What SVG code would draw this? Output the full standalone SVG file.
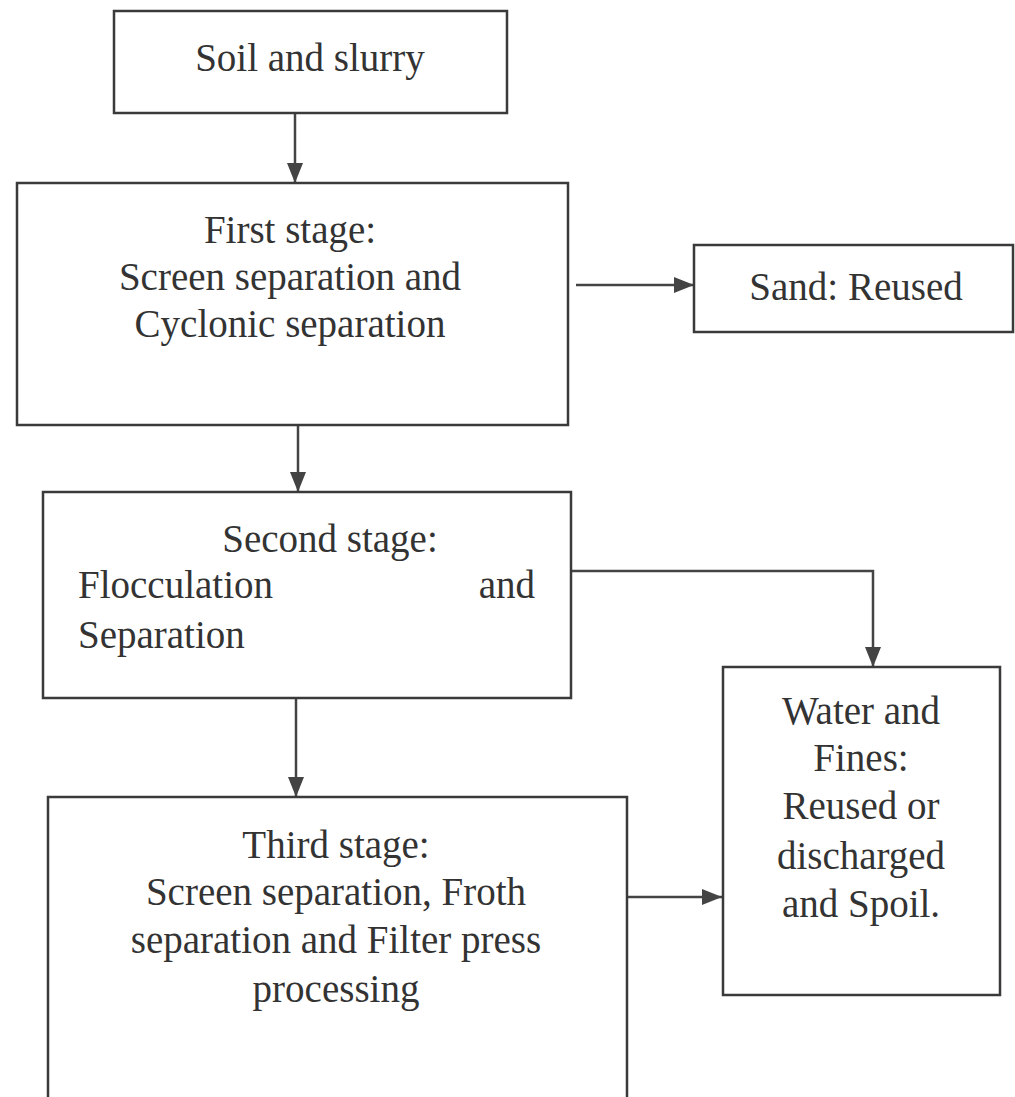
<svg xmlns="http://www.w3.org/2000/svg" width="1015" height="1097" viewBox="0 0 1015 1097">
<defs>
<style>
.box{fill:#fff;stroke:#3a3a3a;stroke-width:2.5}
.t{font-family:"Liberation Serif","Times New Roman",serif;font-size:39px;fill:#333}
.c{text-anchor:middle}
.ln{fill:none;stroke:#444;stroke-width:2.5}
</style>
<marker id="ah" viewBox="0 0 20 16" refX="20" refY="8" markerWidth="20" markerHeight="16" markerUnits="userSpaceOnUse" orient="auto">
<path d="M0,0 L20,8 L0,16 z" fill="#444"/>
</marker>
</defs>
<rect width="1015" height="1097" fill="#fff"/>
<g id="connectors">
<path class="ln" d="M295,114 V183" marker-end="url(#ah)"/>
<path class="ln" d="M576,285 H694" marker-end="url(#ah)"/>
<path class="ln" d="M298,425 V492" marker-end="url(#ah)"/>
<path class="ln" d="M571,571 H873 V667" marker-end="url(#ah)"/>
<path class="ln" d="M296,698 V797" marker-end="url(#ah)"/>
<path class="ln" d="M627,897 H722" marker-end="url(#ah)"/>
</g>
<g id="soil">
<rect class="box" x="114" y="11" width="393" height="102"/>
<text class="t c" x="310" y="71">Soil and slurry</text>
</g>
<g id="first">
<rect class="box" x="17" y="183" width="551" height="242"/>
<text class="t c" x="290" y="243">First stage:</text>
<text class="t c" x="290" y="290">Screen separation and</text>
<text class="t c" x="290" y="337">Cyclonic separation</text>
</g>
<g id="sand">
<rect class="box" x="694" y="245" width="319" height="87"/>
<text class="t c" x="856" y="300">Sand: Reused</text>
</g>
<g id="second">
<rect class="box" x="43" y="492" width="528" height="206"/>
<text class="t c" x="330" y="552">Second stage:</text>
<text class="t" x="78" y="598">Flocculation</text>
<text class="t" x="535" y="598" text-anchor="end">and</text>
<text class="t" x="78" y="648">Separation</text>
</g>
<g id="water">
<rect class="box" x="723" y="667" width="277" height="328"/>
<text class="t c" x="861" y="724">Water and</text>
<text class="t c" x="861" y="771">Fines:</text>
<text class="t c" x="861" y="819">Reused or</text>
<text class="t c" x="861" y="869">discharged</text>
<text class="t c" x="861" y="917">and Spoil.</text>
</g>
<g id="third">
<path class="box" d="M48,1110 V797 H627 V1110"/>
<text class="t c" x="336" y="858">Third stage:</text>
<text class="t c" x="336" y="905">Screen separation, Froth</text>
<text class="t c" x="336" y="953">separation and Filter press</text>
<text class="t c" x="336" y="1002">processing</text>
</g>
</svg>
